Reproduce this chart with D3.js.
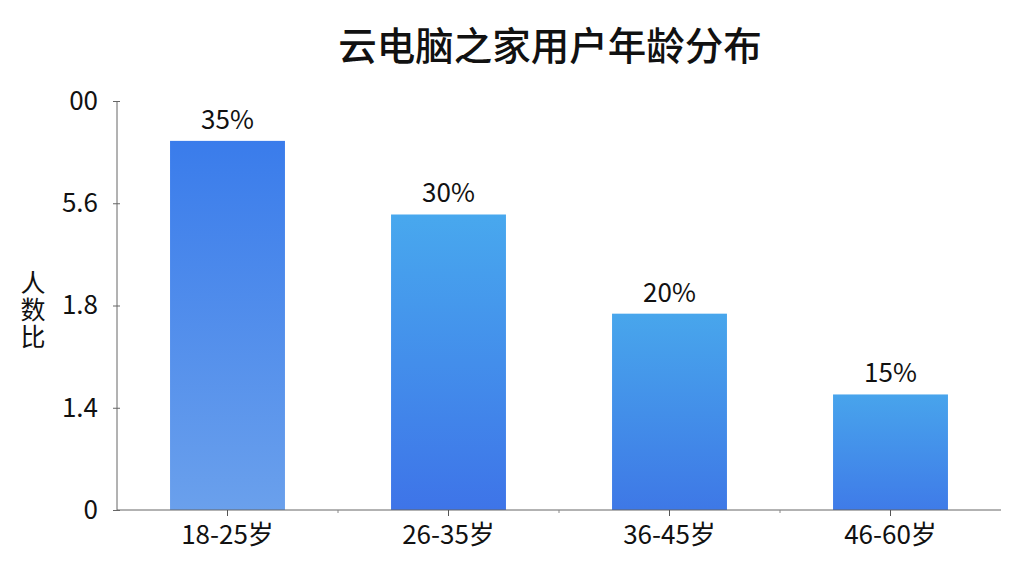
<!DOCTYPE html>
<html>
<head>
<meta charset="utf-8">
<script src="https://cdn.jsdelivr.net/npm/d3@7"></script>
<style>
  html, body { margin: 0; padding: 0; background: #fff; }
  svg { display: block; }
  text { font-family: "Noto Sans CJK SC", "Noto Sans", sans-serif; fill: #111; }
</style>
</head>
<body>
<svg id="chart" width="1024" height="576"></svg>
<script>
// ---- data ----
const categories = ["18-25岁", "26-35岁", "36-45岁", "46-60岁"];
const barValues = [36.1, 28.9, 19.2, 11.3];          // bar heights as drawn (axis units)
const valueLabels = ["35%", "30%", "20%", "15%"];
const tickValues = [0, 10, 20, 30, 40];
const tickLabels = ["0", "1.4", "1.8", "5.6", "00"];
const gradTop = ["#3A7CEB", "#48A8EE", "#48A6EC", "#48A4EC"];
const gradBottom = ["#6AA0EC", "#3E74E8", "#3E78E6", "#3F7BE8"];
const chartTitle = "云电脑之家用户年龄分布";
const yTitle = "人数比";

// ---- layout ----
const svg = d3.select("#chart");
const mLeft = 117, mRight = 1001, mTop = 101, mBottom = 510;

const x = d3.scaleBand().domain(categories).range([mLeft, mRight])
  .paddingInner(0.48).paddingOuter(0.24);
const y = d3.scaleLinear().domain([0, 40]).range([mBottom, mTop]);

const defs = svg.append("defs");
categories.forEach((c, i) => {
  const g = defs.append("linearGradient").attr("id", "g" + i)
    .attr("x1", 0).attr("y1", 0).attr("x2", 0).attr("y2", 1);
  g.append("stop").attr("offset", "0%").attr("stop-color", gradTop[i]);
  g.append("stop").attr("offset", "100%").attr("stop-color", gradBottom[i]);
});

// title
svg.append("text").attr("x", 550).attr("y", 60)
  .attr("text-anchor", "middle").attr("font-size", 38.5).attr("font-weight", 500)
  .text(chartTitle);

// bars
svg.selectAll("rect.bar").data(barValues).join("rect")
  .attr("class", "bar")
  .attr("x", (d, i) => x(categories[i]))
  .attr("y", d => y(d))
  .attr("width", x.bandwidth())
  .attr("height", d => y(0) - y(d))
  .attr("fill", (d, i) => `url(#g${i})`);

// value labels
svg.selectAll("text.val").data(barValues).join("text")
  .attr("class", "val")
  .attr("x", (d, i) => x(categories[i]) + x.bandwidth() / 2)
  .attr("y", d => y(d) - 12)
  .attr("text-anchor", "middle").attr("font-size", 26)
  .text((d, i) => valueLabels[i]);

// y axis
const yAxis = svg.append("g").attr("transform", `translate(${mLeft},0)`)
  .call(d3.axisLeft(y).tickValues(tickValues).tickSize(4).tickPadding(15)
    .tickFormat((d, i) => tickLabels[i]));
yAxis.select(".domain").attr("stroke", "#666").attr("d", `M0,${mTop}V${mBottom}`);
yAxis.selectAll(".tick line").attr("stroke", "#666").attr("x1", 3);
yAxis.selectAll(".tick text").attr("font-size", 26).attr("fill", "#111")
  .attr("font-family", "\"Noto Sans\", sans-serif");

// x axis
const xAxis = svg.append("g").attr("transform", `translate(0,${mBottom})`)
  .call(d3.axisBottom(x).tickSize(6).tickPadding(10));
xAxis.select(".domain").attr("stroke", "#666").attr("d", `M${mLeft},0H${mRight}`);
xAxis.selectAll(".tick line").attr("stroke", "#555");
xAxis.selectAll(".tick text").attr("font-size", 26).attr("fill", "#111");

// minor ticks between bands
const bounds = categories.slice(1).map(c => x(c) - x.step() * x.paddingInner() / 2);
svg.append("g").selectAll("line").data(bounds).join("line")
  .attr("x1", d => d).attr("x2", d => d)
  .attr("y1", mBottom).attr("y2", mBottom + 3)
  .attr("stroke", "#888");

// y title (vertical, upright)
svg.append("text")
  .attr("x", 33).attr("y", 310)
  .attr("text-anchor", "middle")
  .style("writing-mode", "vertical-rl")
  .style("text-orientation", "upright")
  .attr("font-size", 25)
  .attr("letter-spacing", 2)
  .text(yTitle);
</script>
</body>
</html>
